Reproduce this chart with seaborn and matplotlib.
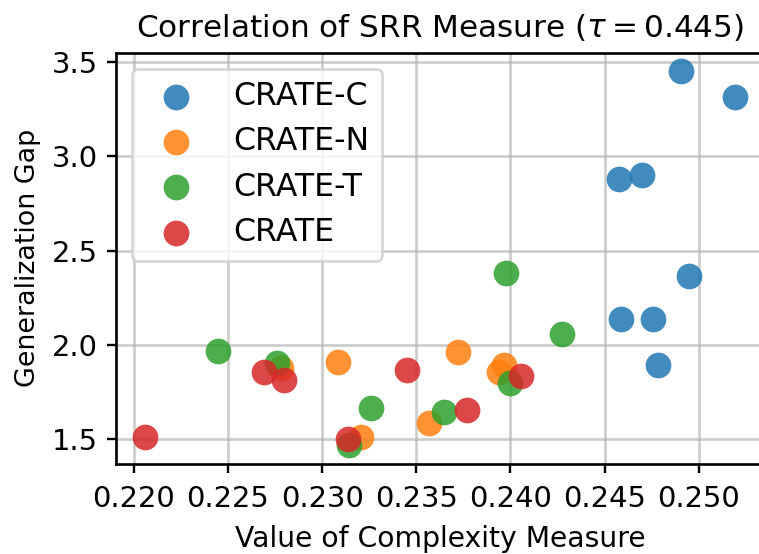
import matplotlib
matplotlib.use("Agg")
import matplotlib.pyplot as plt
import seaborn as sns
import pandas as pd

sns.set_style("white")
plt.rcParams['font.family'] = ['DejaVu Sans']
plt.rcParams.update({"text.color": "black", "axes.labelcolor": "black",
                     "xtick.color": "black", "ytick.color": "black"})

groups = ["CRATE-C", "CRATE-N", "CRATE-T", "CRATE"]
colors = ["#1f77b4", "#ff7f0e", "#2ca02c", "#d62728"]

crate_c_x = [0.24905, 0.2519, 0.24576, 0.2470, 0.24948, 0.24585, 0.24757, 0.24781]
crate_c_y = [3.452, 3.316, 2.881, 2.900, 2.363, 2.136, 2.136, 1.892]

crate_n_x = [0.22784, 0.23083, 0.23209, 0.23568, 0.2372, 0.23964, 0.23939]
crate_n_y = [1.875, 1.908, 1.509, 1.584, 1.962, 1.892, 1.857]

crate_t_x = [0.22448, 0.22763, 0.23258, 0.23143, 0.23975, 0.24273, 0.23996, 0.23647]
crate_t_y = [1.965, 1.904, 1.662, 1.465, 2.379, 2.054, 1.797, 1.640]

crate_x = [0.22692, 0.22796, 0.23453, 0.22062, 0.23138, 0.24058, 0.23769]
crate_y = [1.852, 1.812, 1.866, 1.509, 1.500, 1.831, 1.652]

xs = [crate_c_x, crate_n_x, crate_t_x, crate_x]
ys = [crate_c_y, crate_n_y, crate_t_y, crate_y]

dpi = 190
fig = plt.figure(figsize=(759 / dpi, 554 / dpi), dpi=dpi)
ax = fig.add_axes([116 / 759, 90 / 554, (764 - 116) / 759, (464 - 52.7) / 554])

for name, col, x, y in zip(groups, colors, xs, ys):
    df = pd.DataFrame({"x": x, "y": y})
    sns.scatterplot(data=df, x="x", y="y", color=col, s=95, alpha=0.85,
                    linewidth=0, label=name, ax=ax)

ax.set_xticks([0.220, 0.225, 0.230, 0.235, 0.240, 0.245, 0.250])
ax.set_yticks([1.5, 2.0, 2.5, 3.0, 3.5])
ax.grid(True, color="#b0b0b0", alpha=0.65, linewidth=1.0)
ax.set_axisbelow(True)
for sp in ax.spines.values():
    sp.set_color("black")
    sp.set_linewidth(1.0)
ax.spines["right"].set_visible(False)
ax.tick_params(axis="both", which="major", length=3.5, width=0.9, color="black",
               labelsize=11, bottom=True, left=True)
ax.tick_params(axis="x", pad=4.3)
ax.set_xlabel("Value of Complexity Measure", fontsize=10.7, labelpad=4.8)
ax.set_ylabel("Generalization Gap", fontsize=10.2)
ax.set_title(r"Correlation of SRR Measure ($\tau = 0.445$)", fontsize=11.8)
ax.legend(loc="upper left", fontsize=12, handlelength=2.0, labelspacing=0.45,
          framealpha=0.8)

fig.savefig("out.png", dpi=dpi)
